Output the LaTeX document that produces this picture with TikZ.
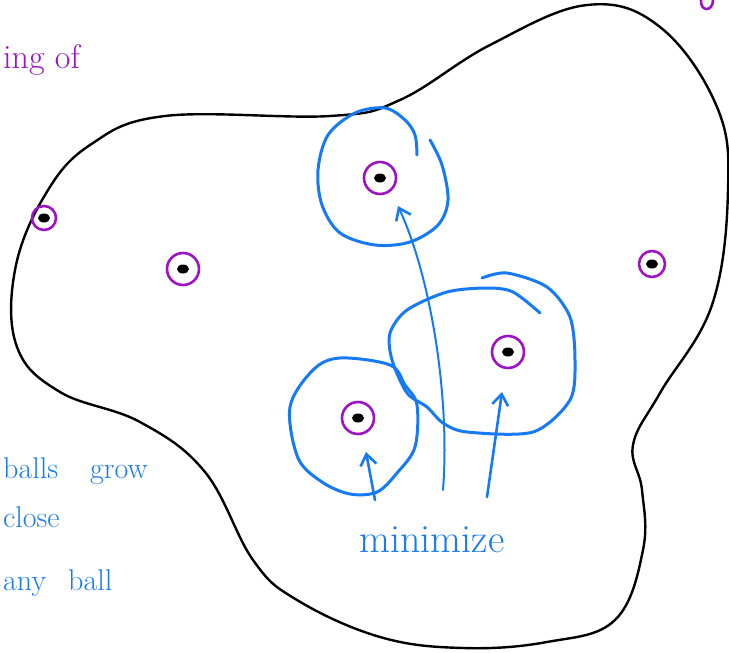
\documentclass[tikz,border=0pt]{standalone}
\usepackage{fontspec}
\usetikzlibrary{arrows.meta}
\definecolor{pen}{RGB}{22,122,245}
\definecolor{violetink}{RGB}{158,18,198}
\tikzset{
  blob/.style={line width=2.4pt, line join=round},
  ball/.style={pen, line width=3pt, line cap=round, line join=round},
  pt/.style={circle, draw=violetink, line width=2.6pt, minimum size=#1, inner sep=0pt,
    path picture={\fill (path picture bounding box.center) ellipse [x radius=6pt, y radius=4.5pt];}},
  pt/.default=32pt,
  hint/.style={pen, line width=2.6pt, line cap=round, -{Straight Barb[length=11pt,width=16pt,line width=2.6pt]}},
  note/.style={pen, inner sep=0pt, font=\fontsize{30}{36}\selectfont},
}

\begin{document}
\begin{tikzpicture}[x=1pt, y=-1pt]
  \useasboundingbox (0,0) rectangle (729,653);
  \clip (0,0) rectangle (729,653);

  \draw[blob] plot[smooth cycle, tension=0.65] coordinates {
    (165,116) (330,116) (400,100) (490,45) (587,5) (660,27) (717,107)
    (728,190) (712,305) (660,393) (633,445) (642,490) (643,550) (615,620)
    (547,642) (463,648) (380,637) (297,600) (253,560) (205,472) (140,422)
    (60,392) (17,347) (15,270) (45,195) (90,145)};

  \node[pt=24pt] (p1) at (44,218) {};
  \node[pt] (p2) at (183,269) {};
  \node[pt] (p3) at (380,178) {};
  \node[pt=26pt] (p4) at (652,264) {};
  \node[pt] (p5) at (508,352) {};
  \node[pt] (p6) at (358,418) {};

  \draw[ball] plot[smooth, tension=0.55] coordinates {
    (430,140) (442,165) (448,200) (438,225) (410,242) (375,245) (340,233)
    (322,205) (318,170) (328,135) (355,113) (385,108) (405,120) (415,135) (417,155)};
  \draw[ball] plot[smooth cycle, tension=0.55] coordinates {
    (290,407) (313,370) (340,358) (390,365) (405,385) (417,405) (415,447)
    (397,473) (377,492) (350,494) (322,482) (298,458)};
  \draw[ball] plot[smooth, tension=0.5] coordinates {
    (482,278) (507,273) (547,287) (570,317) (575,360) (570,400) (533,432)
    (467,432) (443,423) (427,407) (407,393) (392,360) (390,333) (407,310)
    (447,292) (487,288) (513,292) (540,313)};

  \node[note, font=\fontsize{40}{48}\selectfont] (minimize) at (432,540) {minimize};
  \coordinate (m1) at (375,500);
  \coordinate (m2) at (443,490);
  \coordinate (m3) at (487,497);
  \coordinate (t1) at (366,452);
  \coordinate (t2) at (398,206);
  \coordinate (t3) at (502,392);
  \draw[hint] (m1) -- (t1);
  \draw[hint, line width=2pt] (m2) .. controls (450,400) and (432,280) .. (t2);
  \draw[hint] (m3) -- (t3);

  \node[note, anchor=base west] (balls) at (3,478) {balls};
  \node[note, anchor=base west] (grow) at (90,478) {grow};
  \node[note, anchor=base west] (close) at (3,527) {close};
  \node[note, anchor=base west] (any) at (3,590) {any};
  \node[note, anchor=base west] (ball) at (68,590) {ball};
  \node[note, violetink, anchor=base west, font=\fontsize{34}{40}\selectfont] (of) at (3,68) {ing of};
  \draw[violetink, line width=2.6pt] (701,0) .. controls (700,12) and (713,12) .. (713,0);
\end{tikzpicture}
\end{document}
